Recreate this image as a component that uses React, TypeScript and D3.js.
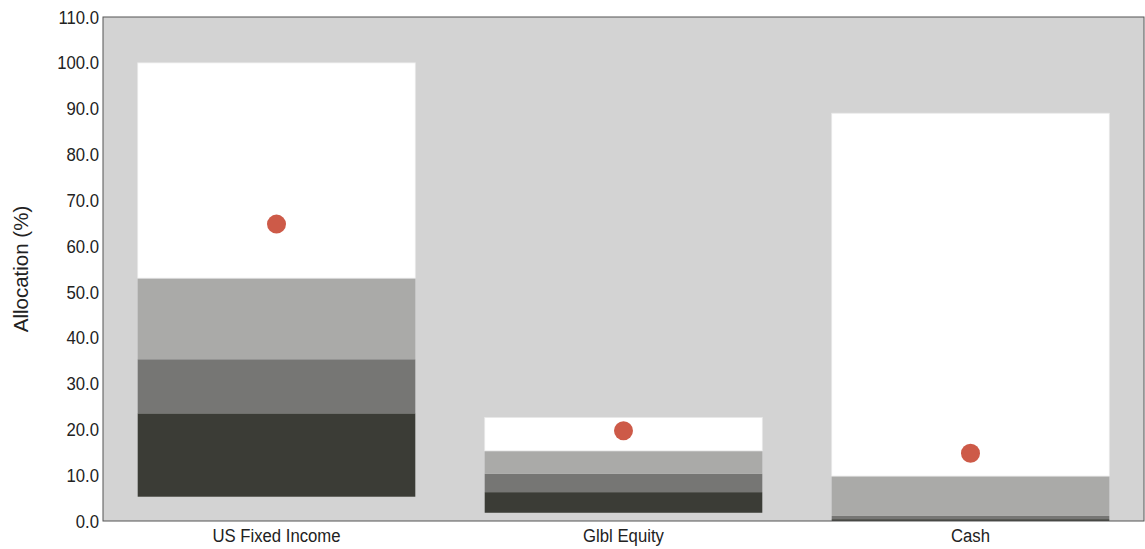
import React from "react";
import * as d3 from "d3";

const categories = ["US Fixed Income", "Glbl Equity", "Cash"];
const lowValues = [5.3, 1.8, 0.0];
const q1Values = [23.5, 6.3, 0.4];
const medianValues = [35.3, 10.3, 1.1];
const q3Values = [53.0, 15.3, 9.8];
const highValues = [100.0, 22.6, 89.0];
const currentValues = [64.8, 19.7, 14.8];
const yTicks = [0, 10, 20, 30, 40, 50, 60, 70, 80, 90, 100, 110];

const W = 1145;
const H = 549;
const margin = { left: 103, right: 1, top: 17, bottom: 28 };
const segColors = ["#3b3c36", "#767674", "#aaaaa8", "#ffffff"];
const SX = 0.88;

export default function App() {
  const x = d3
    .scaleBand<string>()
    .domain(categories)
    .range([margin.left, W - margin.right])
    .paddingInner(0.2)
    .paddingOuter(0.1);
  const y = d3.scaleLinear().domain([0, 110]).range([H - margin.bottom, margin.top]);
  const font = "'Liberation Sans', Arial, sans-serif";

  return (
    <svg
      width={W}
      height={H}
      style={{ position: "absolute", left: 0, top: 0, display: "block" }}
      fontFamily={font}
    >
      <rect
        x={margin.left}
        y={margin.top}
        width={W - margin.right - margin.left}
        height={H - margin.bottom - margin.top}
        fill="#d3d3d3"
      />
      {categories.map((c, i) => {
        const bounds = [lowValues[i], q1Values[i], medianValues[i], q3Values[i], highValues[i]];
        const bx = x(c)!;
        const bw = x.bandwidth();
        return (
          <g key={c}>
            {segColors.map((col, k) => (
              <rect
                key={k}
                x={bx}
                y={y(bounds[k + 1])}
                width={bw}
                height={Math.max(0, y(bounds[k]) - y(bounds[k + 1]))}
                fill={col}
                stroke={k === 3 ? "#e8e8e8" : "none"}
                strokeWidth={0.8}
              />
            ))}
            <circle cx={bx + bw / 2} cy={y(currentValues[i])} r={9.5} fill="#cd5a48" />
          </g>
        );
      })}
      <rect
        x={margin.left}
        y={margin.top}
        width={W - margin.right - margin.left}
        height={H - margin.bottom - margin.top}
        fill="none"
        stroke="#555"
        strokeWidth={1}
      />
      {yTicks.map((t) => (
        <text
          key={t}
          transform={`translate(${margin.left - 4},${y(t)}) scale(${SX},1)`}
          dy="0.35em"
          textAnchor="end"
          fontSize={19}
          fill="#222"
        >
          {t.toFixed(1)}
        </text>
      ))}
      {categories.map((c) => (
        <text
          key={c}
          transform={`translate(${x(c)! + x.bandwidth() / 2},${H - margin.bottom + 21}) scale(${SX},1)`}
          textAnchor="middle"
          fontSize={19}
          fill="#222"
        >
          {c}
        </text>
      ))}
      <text
        transform={`translate(28,${(margin.top + H - margin.bottom) / 2}) rotate(-90)`}
        textAnchor="middle"
        fontSize={20.5}
        fill="#222"
      >
        Allocation (%)
      </text>
    </svg>
  );
}
